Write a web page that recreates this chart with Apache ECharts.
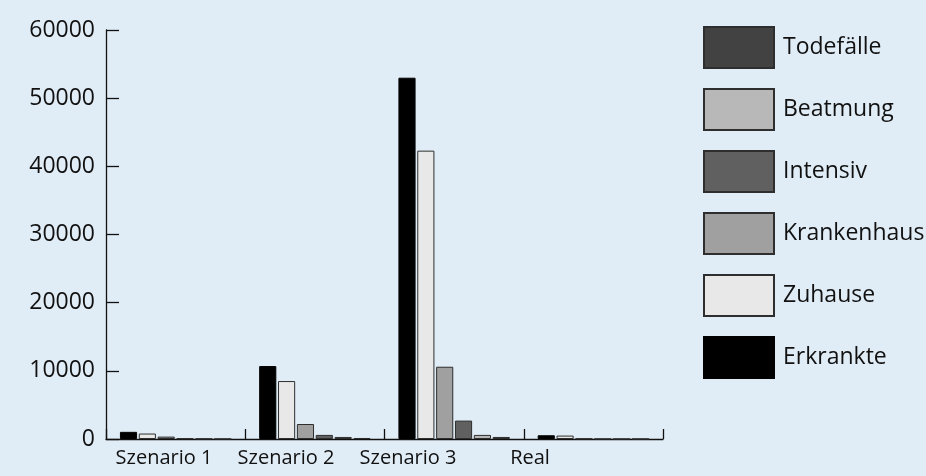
<!DOCTYPE html>
<html>
<head>
<meta charset="utf-8">
<script src="https://cdn.jsdelivr.net/npm/echarts@6/dist/echarts.min.js"></script>
<style>
  html, body { margin: 0; padding: 0; background: #e1edf6; }
  #chart { width: 926px; height: 476px; }
</style>
</head>
<body>
<div id="chart"></div>
<script>
// Scenario categories and the y-axis range
const categories = ['Szenario 1', 'Szenario 2', 'Szenario 3', 'Real'];
const yTicks = { min: 0, max: 60000, interval: 10000 };

// Case counts per scenario
const erkrankte   = [1050, 10700, 53000, 550];
const zuhause     = [800, 8500, 42300, 500];
const krankenhaus = [350, 2200, 10600, 60];
const intensiv    = [90, 600, 2700, 20];
const beatmung    = [50, 300, 600, 10];
const todesfaelle = [20, 150, 300, 10];

// Series in bar order within each group, with their fills
const seriesDefs = [
  { name: 'Erkrankte',   data: erkrankte,   color: '#000000' },
  { name: 'Zuhause',     data: zuhause,     color: '#e8e8e8' },
  { name: 'Krankenhaus', data: krankenhaus, color: '#a0a0a0' },
  { name: 'Intensiv',    data: intensiv,    color: '#606060' },
  { name: 'Beatmung',    data: beatmung,    color: '#b8b8b8' },
  { name: 'Todefälle',   data: todesfaelle, color: '#424242' }
];
const legendOrder = ['Todefälle', 'Beatmung', 'Intensiv', 'Krankenhaus', 'Zuhause', 'Erkrankte'];

const FONT = '"Open Sans", sans-serif';
const INK = '#111111';

const chart = echarts.init(document.getElementById('chart'), null, { renderer: 'canvas' });

chart.setOption({
  backgroundColor: '#e1edf6',
  animation: false,
  legend: {
    data: legendOrder,
    orient: 'vertical',
    left: 703,
    top: 26,
    padding: 0,
    itemWidth: 70,
    itemHeight: 41,
    itemGap: 19,
    icon: 'rect',
    textStyle: { fontFamily: FONT, fontSize: 23, color: INK, padding: [0, 0, 0, 4] },
    selectedMode: false
  },
  grid: [
    { left: 106, top: 30, width: 557, height: 409, containLabel: false },
    // second grid only carries the category labels
    { left: 103, top: 30, width: 488, height: 409, containLabel: false }
  ],
  xAxis: [
    {
      type: 'category',
      gridIndex: 0,
      data: categories,
      axisLine: { show: true, lineStyle: { color: INK, width: 1.3 } },
      axisTick: { show: true, inside: true, length: 10, interval: 0, alignWithLabel: false, lineStyle: { color: INK, width: 1.3 } },
      axisLabel: { show: false }
    },
    {
      type: 'category',
      gridIndex: 1,
      data: categories,
      axisLine: { show: false },
      axisTick: { show: false },
      axisLabel: { interval: 0, fontFamily: FONT, fontSize: 20, color: INK, margin: 9 }
    }
  ],
  yAxis: [
    {
      type: 'value',
      gridIndex: 0,
      min: yTicks.min,
      max: yTicks.max,
      interval: yTicks.interval,
      axisLine: { show: true, lineStyle: { color: INK, width: 1.3 } },
      axisTick: { show: true, inside: true, length: 13, lineStyle: { color: INK, width: 1.3 } },
      splitLine: { show: false },
      axisLabel: { fontFamily: FONT, fontSize: 23, color: INK, margin: 11, formatter: v => String(v) }
    },
    {
      type: 'value',
      gridIndex: 1,
      min: yTicks.min,
      max: yTicks.max,
      show: false
    }
  ],
  series: seriesDefs.map(s => ({
    name: s.name,
    type: 'bar',
    xAxisIndex: 0,
    yAxisIndex: 0,
    data: s.data,
    barGap: '10%',
    barCategoryGap: '20%',
    itemStyle: {
      color: s.color,
      borderColor: s.color === '#000000' ? '#000000' : '#2e2e2e',
      borderWidth: 1
    }
  }))
});
</script>
</body>
</html>
